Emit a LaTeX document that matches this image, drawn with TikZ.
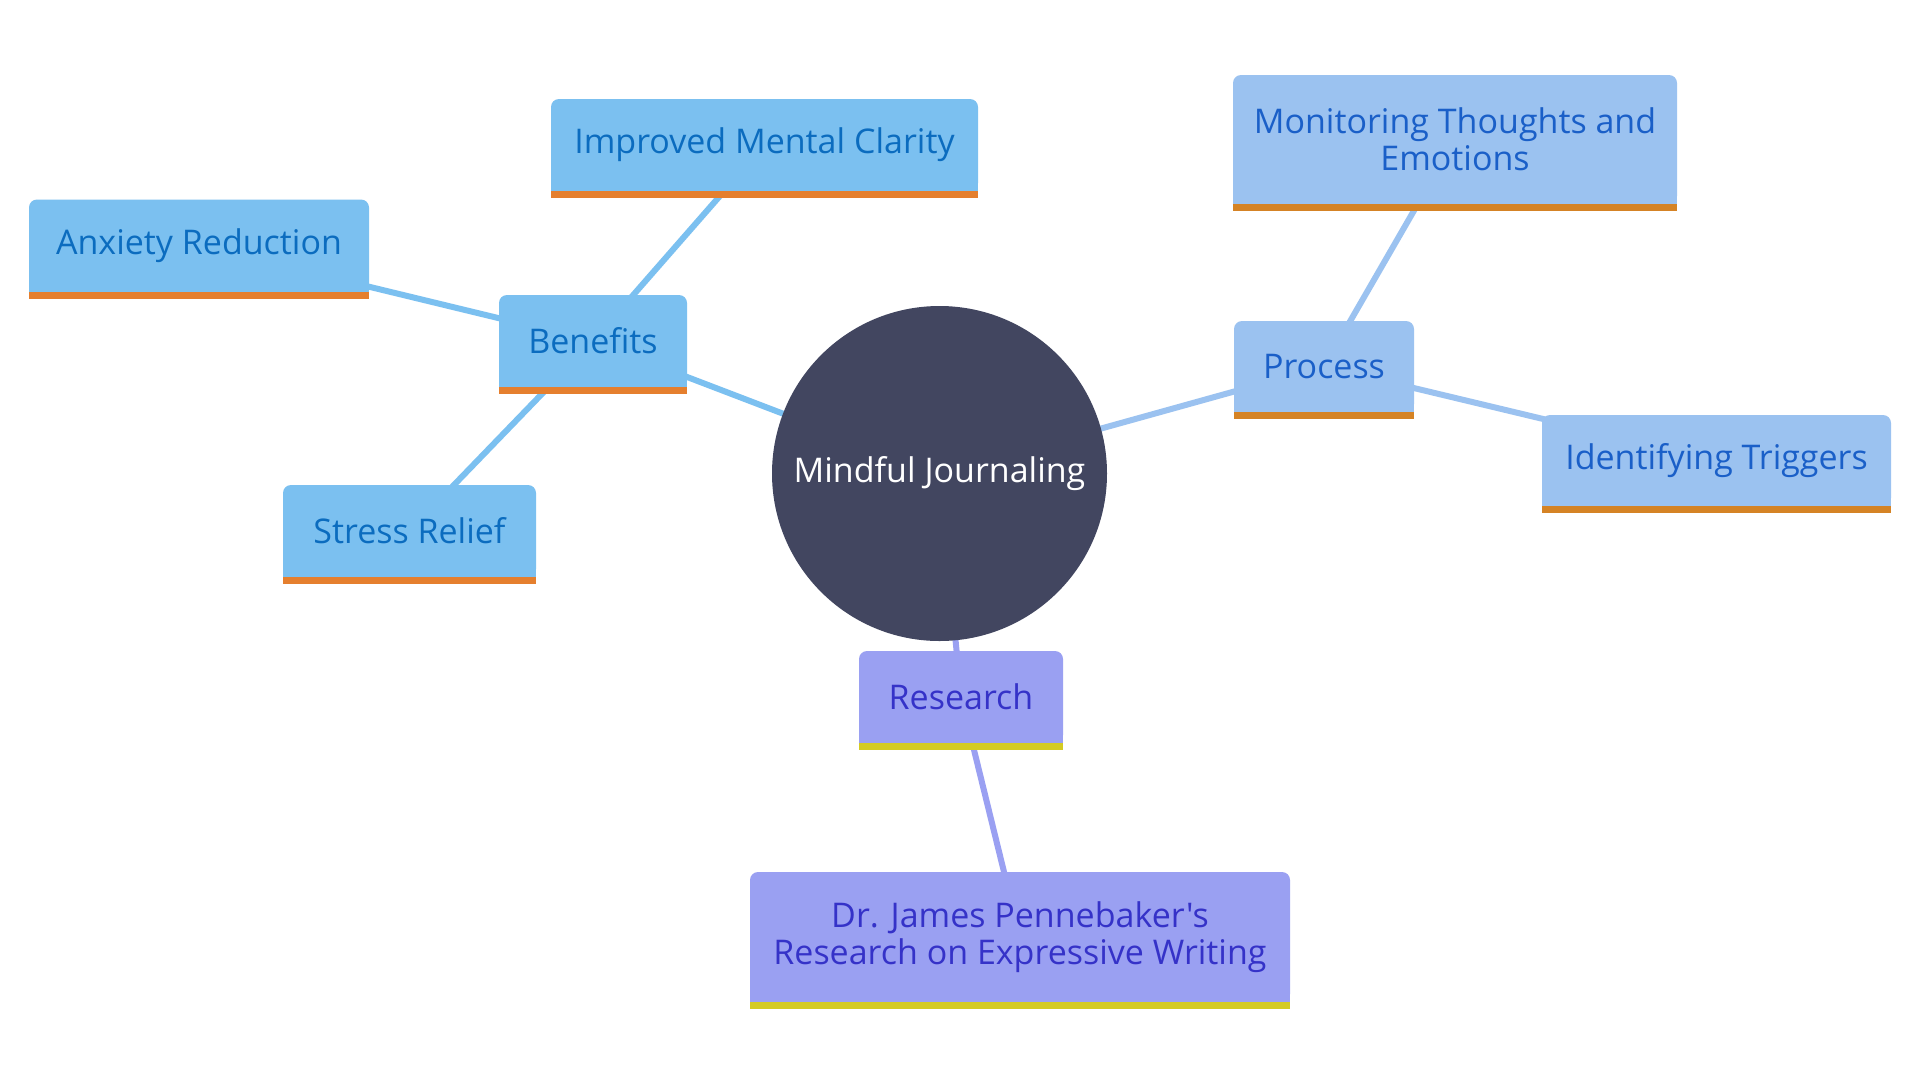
\documentclass[tikz,border=0pt]{standalone}
\usepackage{fontspec}
\setmainfont{Open Sans}[Ligatures=TeXOff]
\usetikzlibrary{backgrounds}
\definecolor{cbg}{HTML}{424660}
\definecolor{bfill}{HTML}{7BC0F0}
\definecolor{btext}{HTML}{0B6CBF}
\definecolor{bbar}{HTML}{E57F2E}
\definecolor{pfill}{HTML}{9BC2F0}
\definecolor{ptext}{HTML}{1A5FC8}
\definecolor{pbar}{HTML}{D58325}
\definecolor{rfill}{HTML}{9AA0F2}
\definecolor{rtext}{HTML}{3532C8}
\definecolor{rbar}{HTML}{D4CB23}
\tikzset{
  box/.style={rectangle, rounded corners=8pt, inner sep=0pt, align=center,
    font=\fontsize{34}{37}\selectfont},
  bbox/.style={box, fill=bfill, text=btext},
  pbox/.style={box, fill=pfill, text=ptext},
  rbox/.style={box, fill=rfill, text=rtext},
  link/.style={line width=6pt},
}
\newcommand{\boxbar}[3]{%
  \fill[#2] (#1.south west) rectangle ([yshift=10pt]#1.south east);
  \fill[#3] (#1.south west) rectangle ([yshift=-7pt]#1.south east);}
\begin{document}
\begin{tikzpicture}[x=1pt,y=-1pt]
\useasboundingbox (0,0) rectangle (1920,1080);
\node[circle, fill=cbg, minimum size=335pt, inner sep=0pt, text=white,
  font=\fontsize{34}{37}\selectfont] (c) at (939.5,473.5) {Mindful Journaling};
\node[bbox, minimum width=188pt, minimum height=92pt] (ben) at (593,341) {Benefits};
\node[bbox, minimum width=427pt, minimum height=92pt] (imp) at (764.5,145) {Improved Mental Clarity};
\node[bbox, minimum width=340pt, minimum height=92pt] (anx) at (199,245.5) {Anxiety Reduction};
\node[bbox, minimum width=253pt, minimum height=92pt] (str) at (409.5,531) {Stress Relief};
\node[pbox, minimum width=180pt, minimum height=91pt] (pro) at (1324,366.5) {Process};
\node[pbox, minimum width=444pt, minimum height=129pt] (mon) at (1455,139.5) {Monitoring Thoughts and\\Emotions};
\node[pbox, minimum width=349pt, minimum height=91pt] (ide) at (1716.5,460.5) {Identifying Triggers};
\node[rbox, minimum width=204pt, minimum height=92pt] (res) at (961,697) {Research};
\node[rbox, minimum width=540pt, minimum height=130pt] (dr) at (1020,937) {Dr. James Pennebaker's\\Research on Expressive Writing};
\boxbar{ben}{bfill}{bbar}\boxbar{imp}{bfill}{bbar}\boxbar{anx}{bfill}{bbar}\boxbar{str}{bfill}{bbar}
\boxbar{pro}{pfill}{pbar}\boxbar{mon}{pfill}{pbar}\boxbar{ide}{pfill}{pbar}
\boxbar{res}{rfill}{rbar}\boxbar{dr}{rfill}{rbar}
\begin{scope}[on background layer]
\fill[white] (0,0) rectangle (1920,1080);
\draw[link, bfill] (c.center) -- (ben.center);
\draw[link, bfill] (ben.center) -- (imp.center);
\draw[link, bfill] (ben.center) -- (anx.center);
\draw[link, bfill] (ben.center) -- (str.center);
\draw[link, pfill] (c.center) -- (pro.center);
\draw[link, pfill] (pro.center) -- (mon.center);
\draw[link, pfill] (pro.center) -- (ide.center);
\draw[link, rfill] (c.center) -- (res.center);
\draw[link, rfill] (res.center) -- (dr.center);
\end{scope}
\end{tikzpicture}
\end{document}
